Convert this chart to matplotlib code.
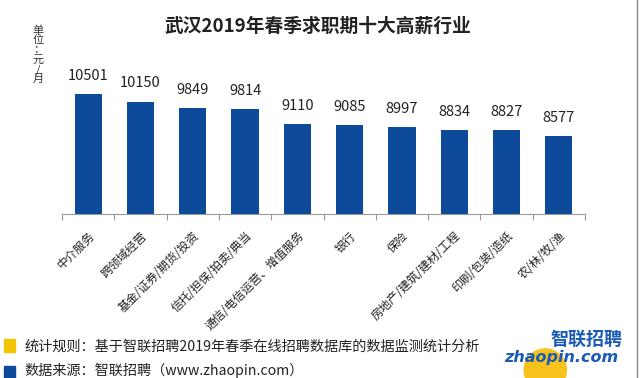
import matplotlib.pyplot as plt
from matplotlib.patches import Rectangle, Ellipse

plt.rcParams['font.family'] = ['Noto Sans CJK SC', 'DejaVu Sans']

#データ
industries = ['中介服务', '跨领域经营', '基金/证券/期货/投资', '信托/担保/拍卖/典当',
              '通信/电信运营、增值服务', '银行', '保险', '房地产/建筑/建材/工程',
              '印刷/包装/造纸', '农/林/牧/渔']
salary = [10501, 10150, 9849, 9814, 9110, 9085, 8997, 8834, 8827, 8577]

title = '武汉2019年春季求职期十大高薪行业'
unit_label = '单\n位\n：\n元\n/\n月'
note_rule = '统计规则：基于智联招聘2019年春季在线招聘数据库的数据监测统计分析'
note_source = '数据来源：智联招聘（www.zhaopin.com）'

BAR_COLOR = '#0d4a9a'
YELLOW = '#f5c400'

fig = plt.figure(figsize=(6.4, 3.78), dpi=100)
ax = fig.add_axes([0.097, 0.434, 0.817, 0.404])

x = list(range(len(industries)))
ax.bar(x, salary, width=0.52, color=BAR_COLOR)

#値ラベル
for xi, v in zip(x, salary):
    ax.annotate(str(v), (xi, v), xytext=(0, 8), textcoords='offset points',
                ha='center', va='bottom', fontsize=10.5, color='#222222')

ax.set_xlim(-0.5, len(industries) - 0.5)
ax.set_ylim(5000, 12000)

#軸の設定
for s in ['top', 'right', 'left']:
    ax.spines[s].set_visible(False)
ax.spines['bottom'].set_color('#999999')
ax.set_yticks([])
ax.set_xticks([i - 0.5 for i in range(len(industries) + 1)])
ax.set_xticklabels([])
ax.tick_params(axis='x', length=4, color='#999999', direction='out')
ax.set_xticks(x, minor=True)
ax.set_xticklabels(industries, minor=True, rotation=45, ha='right',
                   rotation_mode='anchor', fontsize=8.5, color='#222222')
ax.tick_params(axis='x', which='minor', length=0, pad=11)

#タイトル
fig.text(0.497, 0.93, title, ha='center', va='center', fontsize=13.5,
         fontweight='bold', color='#222222')

#単位
fig.text(0.06, 0.855, unit_label, ha='center', va='center', fontsize=8,
         color='#333333', linespacing=0.95)

#注記
fig.patches.append(Rectangle((0.006, 0.07), 0.018, 0.032, transform=fig.transFigure,
                             color=YELLOW, figure=fig))
fig.text(0.038, 0.084, note_rule, ha='left', va='center', fontsize=10.2, color='#222222')
fig.patches.append(Rectangle((0.006, 0.0), 0.018, 0.032, transform=fig.transFigure,
                             color=BAR_COLOR, figure=fig))
fig.text(0.038, 0.02, note_source, ha='left', va='center', fontsize=10.2, color='#222222')

#ロゴ
fig.patches.append(Ellipse((0.852, 0.021), 0.066, 0.112, transform=fig.transFigure,
                           color='#f7c21a', figure=fig))
fig.text(0.972, 0.103, '智联招聘', ha='right', va='center', fontsize=13,
         fontweight='bold', style='italic', color='#1a5bb5')
fig.text(0.966, 0.055, 'zhaopin.com', ha='right', va='center', fontsize=11.5,
         fontweight='bold', style='italic', color='#1a5bb5', family='DejaVu Sans')

#右端の枠線
fig.add_artist(plt.Line2D([0.995, 0.995], [0, 1], transform=fig.transFigure,
                          color='#888888', lw=1))

fig.savefig('out.png', dpi=100)
